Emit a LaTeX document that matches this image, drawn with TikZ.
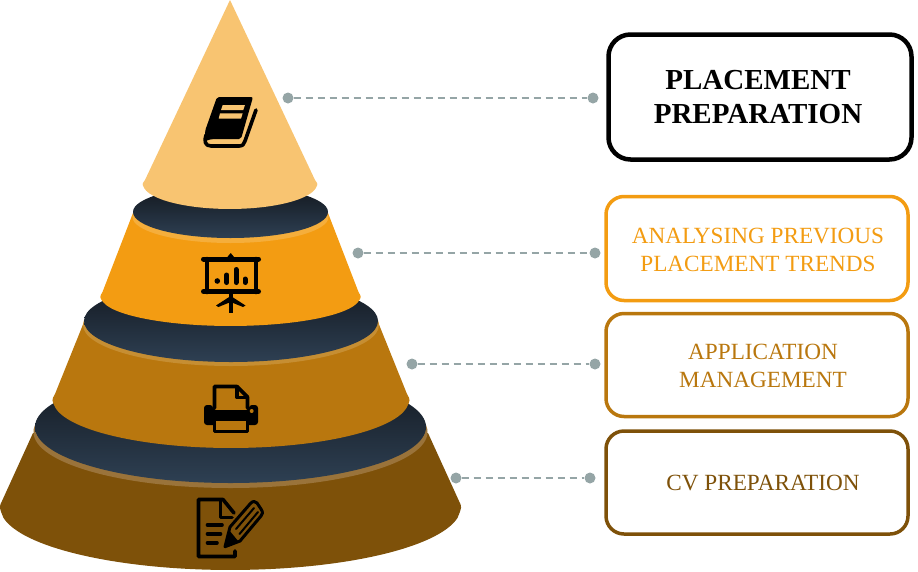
\documentclass[tikz,border=0pt]{standalone}
\usepackage{fontspec}
\setmainfont{Liberation Serif}
\definecolor{tierA}{HTML}{F8C471}
\definecolor{tierB}{HTML}{F39C12}
\definecolor{tierC}{HTML}{B9770E}
\definecolor{tierD}{HTML}{7E5109}
\definecolor{rimB}{HTML}{F5AE3B}
\definecolor{rimC}{HTML}{C68E32}
\definecolor{rimD}{HTML}{9A733A}
\definecolor{dotgrey}{HTML}{95A5A6}
\definecolor{darktop}{HTML}{12171E}
\definecolor{darkbot}{HTML}{2E4053}

\begin{document}
\begin{tikzpicture}[
  x=1pt, y=-1pt,
  every node/.style={inner sep=0pt},
  disc/.style={top color=darktop, bottom color=darkbot},
  dot/.style={circle, fill=dotgrey, minimum size=11pt},
  link/.style={draw=dotgrey, line width=2pt, dash pattern=on 7pt off 5pt},
  card/.style={draw, rounded corners=18pt, line width=3.5pt, fill=white, anchor=north west, outer sep=0pt},
  bigtext/.style={font=\fontsize{29}{34}\selectfont\bfseries, align=center},
  smalltext/.style={font=\fontsize{23.2}{28}\selectfont, align=center},
  icon/.style={draw=black, line width=3.6pt, line join=round, line cap=round}]

  \useasboundingbox (0,0) rectangle (918,571);

  %% ---------------- bottom tier ----------------
  \fill[tierD] (33,433) -- (2,501) .. controls (-1,507) .. (3.5,517.9)
    arc[start angle=170, end angle=10, x radius=230.5, y radius=63]
    .. controls (462,507) .. (459,501) -- (428,433) -- cycle;
  \fill[rimD] (230.5,432) ellipse [x radius=197, y radius=56];
  \shade[disc] (230.5,427) ellipse [x radius=195.5, y radius=56];

  %% ---------------- third tier ----------------
  \fill[tierC] (84,322) -- (55,394) .. controls (51.5,400) .. (55.7,408.3)
    arc[start angle=170, end angle=10, x radius=178, y radius=48]
    .. controls (410.5,400) .. (407,394) -- (378,322) -- cycle;
  \fill[rimC] (231,325) ellipse [x radius=148, y radius=41];
  \shade[disc] (231,321) ellipse [x radius=147, y radius=41];

  %% ---------------- second tier ----------------
  \fill[tierB] (133,213) -- (102.5,292) .. controls (99.5,297) .. (103,302)
    arc[start angle=170, end angle=10, x radius=129.5, y radius=29]
    .. controls (361.5,297) .. (358.5,292) -- (328,213) -- cycle;
  \fill[rimB] (230.5,217) ellipse [x radius=98, y radius=26];
  \shade[disc] (230.5,212) ellipse [x radius=97.5, y radius=26];

  %% ---------------- top cone ----------------
  \fill[tierA] (230,0) -- (145,180) .. controls (142,184) .. (144.3,188.3)
    arc[start angle=170, end angle=10, x radius=87, y radius=25]
    .. controls (318,184) .. (315,180) -- cycle;

  %% ---------------- icons ----------------
  % book
  \draw[icon] (206,135) .. controls (204,141) and (205,146) .. (211,146)
    -- (239,146) .. controls (243,146) and (244,144) .. (245,141) -- (256,110);
  \fill[black, rounded corners=2pt] (217,97) -- (253,97) -- (241,139) -- (212,139)
    -- (205,141) -- (205,131) -- cycle;
  \fill[tierA] (222.7,105) -- (245,105) -- (243.3,110) -- (221,110) -- cycle;
  \fill[tierA] (220,113.3) -- (242.7,113.3) -- (241,118.7) -- (218.7,118.7) -- cycle;
  % presentation board
  \draw[icon, line width=4.5pt] (207,259) -- (207,292) (256,259) -- (256,292);
  \draw[icon, line width=5pt] (203.5,259) -- (258.5,259) (203.5,291.5) -- (258.5,291.5);
  \fill[black] (230.7,253) -- (234,257) -- (227.4,257) -- cycle;
  \fill[black] (217.3,281) circle [radius=2.8];
  \draw[icon, line width=5pt] (226.7,275) -- (226.7,282.5) (236,269.5) -- (236,282.5)
    (245,279) -- (245,282.5);
  \draw[icon, line width=4pt, line cap=butt] (230.7,294) -- (230.7,312.7);
  \fill[black] (230.7,296) -- (245.5,305.5) -- (243,307) -- (230.7,302) -- (218.4,307)
    -- (216,305.5) -- cycle;
  % printer
  \draw[icon] (214.5,408) -- (214.5,386.5) -- (237,386.5) -- (247.5,397) -- (247.5,408);
  \draw[icon] (237,387) -- (237,397.5) -- (247,397.5);
  \fill[black, rounded corners=3pt] (204,425) -- (204,405) -- (213,405) -- (213,410)
    -- (249,410) -- (249,405) -- (258,405) -- (258,425) -- cycle;
  \draw[icon, fill=tierC] (214.5,421) -- (214.5,431.5) -- (247.5,431.5) -- (247.5,421);
  \fill[black] (213,419) rectangle (249,421);
  \fill[tierC] (251.7,411) circle [radius=2];
  % form and pencil
  \draw[icon] (235,551) -- (235,556.5) -- (198.5,556.5) -- (198.5,499.5) -- (223,499.5)
    -- (234,513);
  \draw[icon] (220.5,500) -- (220.5,517.5) -- (232,517.5);
  \draw[icon] (207.5,525) -- (222,525) (207.5,534) -- (220.5,534) (207.5,542.7) -- (217,542.7);
  \draw[icon, line width=3pt] (230,527) -- (250,504) .. controls (253,500.5) and (255,501) .. (257,503)
    -- (261,509) .. controls (263,512) and (263,514) .. (261,516) -- (240,541) -- (225,546.7) -- cycle;
  \draw[icon, line width=2pt] (236,529) -- (254,508) (239.5,534) -- (258,512);
  \fill[black] (225,546.7) -- (229,530) -- (238.5,541.5) -- cycle;

  %% ---------------- cards ----------------
  \node[card, draw=black, line width=4.5pt, minimum width=303pt, minimum height=125pt, rounded corners=22pt] (cardA) at (608.5,34.5) {};
  \node[card, draw=tierB, minimum width=302pt, minimum height=104pt] (cardB) at (606,196.5) {};
  \node[card, draw=tierC, minimum width=302pt, minimum height=103pt] (cardC) at (606,313.5) {};
  \node[card, draw=tierD, minimum width=302pt, minimum height=103pt] (cardD) at (606,431) {};
  % labels
  \node[bigtext, text=black] (textA) at (758,97) {PLACEMENT\\PREPARATION};
  \node[smalltext, text=tierB] (textB) at (758,250) {ANALYSING PREVIOUS\\PLACEMENT TRENDS};
  \node[smalltext, text=tierC] (textC) at (763,366) {APPLICATION\\MANAGEMENT};
  \node[smalltext, text=tierD] (textD) at (763,483) {CV PREPARATION};

  %% ---------------- connectors ----------------
  \node[dot] (dotA) at (288,98) {};
  \node[dot] (endA) at (593,98) {};
  \node[dot] (dotB) at (358,253) {};
  \node[dot] (endB) at (595,253) {};
  \node[dot] (dotC) at (412,364) {};
  \node[dot] (endC) at (595,364) {};
  \node[dot] (dotD) at (456,478) {};
  \node[dot] (endD) at (590,478) {};
  \draw[link] (dotA) -- (endA);
  \draw[link] (dotB) -- (endB);
  \draw[link] (dotC) -- (endC);
  \draw[link] (dotD) -- (endD);

\end{tikzpicture}
\end{document}
